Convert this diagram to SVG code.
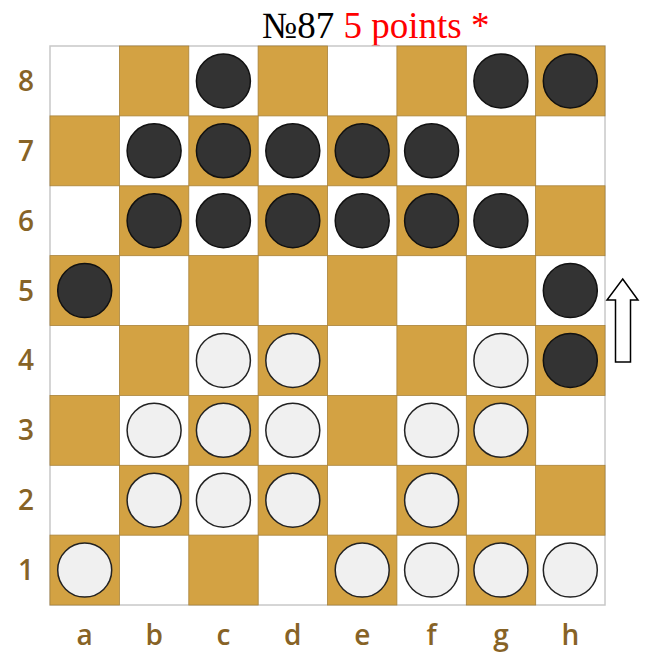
<svg xmlns="http://www.w3.org/2000/svg" width="645" height="652" viewBox="0 0 645 652">
<style>
.dk{fill:#d3a243;stroke:#a8823a;stroke-width:0.8}
.b{fill:#333333;stroke:#111111;stroke-width:1.5}
.w{fill:#f0f0f0;stroke:#222222;stroke-width:1.5}
.lbl{font-family:"Open Sans","Noto Sans",sans-serif;font-weight:600;font-size:28px;fill:#876326;text-anchor:middle}
.title{font-family:"Liberation Serif","Times New Roman",serif;font-size:37px}
</style>
<rect width="645" height="652" fill="#ffffff"/>
<text class="title" x="262" y="38"><tspan fill="#000000">№87 </tspan><tspan fill="#ff0000">5 points *</tspan></text>
<g id="board">
<rect x="50" y="46" width="555" height="559" fill="#ffffff" stroke="#c8c8c8" stroke-width="1.5"/>
<g id="dark-squares">
<rect class="dk" x="119.4" y="46" width="69.4" height="69.9"/>
<rect class="dk" x="258.1" y="46" width="69.4" height="69.9"/>
<rect class="dk" x="396.9" y="46" width="69.4" height="69.9"/>
<rect class="dk" x="535.6" y="46" width="69.4" height="69.9"/>
<rect class="dk" x="50" y="115.9" width="69.4" height="69.9"/>
<rect class="dk" x="188.8" y="115.9" width="69.4" height="69.9"/>
<rect class="dk" x="327.5" y="115.9" width="69.4" height="69.9"/>
<rect class="dk" x="466.3" y="115.9" width="69.4" height="69.9"/>
<rect class="dk" x="119.4" y="185.8" width="69.4" height="69.9"/>
<rect class="dk" x="258.1" y="185.8" width="69.4" height="69.9"/>
<rect class="dk" x="396.9" y="185.8" width="69.4" height="69.9"/>
<rect class="dk" x="535.6" y="185.8" width="69.4" height="69.9"/>
<rect class="dk" x="50" y="255.6" width="69.4" height="69.9"/>
<rect class="dk" x="188.8" y="255.6" width="69.4" height="69.9"/>
<rect class="dk" x="327.5" y="255.6" width="69.4" height="69.9"/>
<rect class="dk" x="466.3" y="255.6" width="69.4" height="69.9"/>
<rect class="dk" x="119.4" y="325.5" width="69.4" height="69.9"/>
<rect class="dk" x="258.1" y="325.5" width="69.4" height="69.9"/>
<rect class="dk" x="396.9" y="325.5" width="69.4" height="69.9"/>
<rect class="dk" x="535.6" y="325.5" width="69.4" height="69.9"/>
<rect class="dk" x="50" y="395.4" width="69.4" height="69.9"/>
<rect class="dk" x="188.8" y="395.4" width="69.4" height="69.9"/>
<rect class="dk" x="327.5" y="395.4" width="69.4" height="69.9"/>
<rect class="dk" x="466.3" y="395.4" width="69.4" height="69.9"/>
<rect class="dk" x="119.4" y="465.3" width="69.4" height="69.9"/>
<rect class="dk" x="258.1" y="465.3" width="69.4" height="69.9"/>
<rect class="dk" x="396.9" y="465.3" width="69.4" height="69.9"/>
<rect class="dk" x="535.6" y="465.3" width="69.4" height="69.9"/>
<rect class="dk" x="50" y="535.1" width="69.4" height="69.9"/>
<rect class="dk" x="188.8" y="535.1" width="69.4" height="69.9"/>
<rect class="dk" x="327.5" y="535.1" width="69.4" height="69.9"/>
<rect class="dk" x="466.3" y="535.1" width="69.4" height="69.9"/>
</g>
</g>
<g id="black-pieces">
<circle class="b" cx="223.4" cy="80.9" r="27"/>
<circle class="b" cx="500.9" cy="80.9" r="27"/>
<circle class="b" cx="570.3" cy="80.9" r="27"/>
<circle class="b" cx="154.1" cy="150.8" r="27"/>
<circle class="b" cx="223.4" cy="150.8" r="27"/>
<circle class="b" cx="292.8" cy="150.8" r="27"/>
<circle class="b" cx="362.2" cy="150.8" r="27"/>
<circle class="b" cx="431.6" cy="150.8" r="27"/>
<circle class="b" cx="154.1" cy="220.7" r="27"/>
<circle class="b" cx="223.4" cy="220.7" r="27"/>
<circle class="b" cx="292.8" cy="220.7" r="27"/>
<circle class="b" cx="362.2" cy="220.7" r="27"/>
<circle class="b" cx="431.6" cy="220.7" r="27"/>
<circle class="b" cx="500.9" cy="220.7" r="27"/>
<circle class="b" cx="84.7" cy="290.6" r="27"/>
<circle class="b" cx="570.3" cy="290.6" r="27"/>
<circle class="b" cx="570.3" cy="360.4" r="27"/>
</g>
<g id="white-pieces">
<circle class="w" cx="223.4" cy="360.4" r="27"/>
<circle class="w" cx="292.8" cy="360.4" r="27"/>
<circle class="w" cx="500.9" cy="360.4" r="27"/>
<circle class="w" cx="154.1" cy="430.3" r="27"/>
<circle class="w" cx="223.4" cy="430.3" r="27"/>
<circle class="w" cx="292.8" cy="430.3" r="27"/>
<circle class="w" cx="431.6" cy="430.3" r="27"/>
<circle class="w" cx="500.9" cy="430.3" r="27"/>
<circle class="w" cx="154.1" cy="500.2" r="27"/>
<circle class="w" cx="223.4" cy="500.2" r="27"/>
<circle class="w" cx="292.8" cy="500.2" r="27"/>
<circle class="w" cx="431.6" cy="500.2" r="27"/>
<circle class="w" cx="84.7" cy="570.1" r="27"/>
<circle class="w" cx="362.2" cy="570.1" r="27"/>
<circle class="w" cx="431.6" cy="570.1" r="27"/>
<circle class="w" cx="500.9" cy="570.1" r="27"/>
<circle class="w" cx="570.3" cy="570.1" r="27"/>
</g>
<g id="rank-labels">
<text class="lbl" x="26" y="90.8">8</text>
<text class="lbl" x="26" y="160.7">7</text>
<text class="lbl" x="26" y="230.6">6</text>
<text class="lbl" x="26" y="300.5">5</text>
<text class="lbl" x="26" y="370.3">4</text>
<text class="lbl" x="26" y="440.2">3</text>
<text class="lbl" x="26" y="510.1">2</text>
<text class="lbl" x="26" y="580">1</text>
</g>
<g id="file-labels">
<text class="lbl" x="84.7" y="645">a</text>
<text class="lbl" x="154.1" y="645">b</text>
<text class="lbl" x="223.4" y="645">c</text>
<text class="lbl" x="292.8" y="645">d</text>
<text class="lbl" x="362.2" y="645">e</text>
<text class="lbl" x="431.6" y="645">f</text>
<text class="lbl" x="500.9" y="645">g</text>
<text class="lbl" x="570.3" y="645">h</text>
</g>
<g id="move-arrow">
<polygon points="622.7,279 638,300 630.5,300 630.5,362 615.5,362 615.5,300 607,300" fill="#ffffff" stroke="#000000" stroke-width="1.5" stroke-linejoin="miter"/>
</g>
</svg>
